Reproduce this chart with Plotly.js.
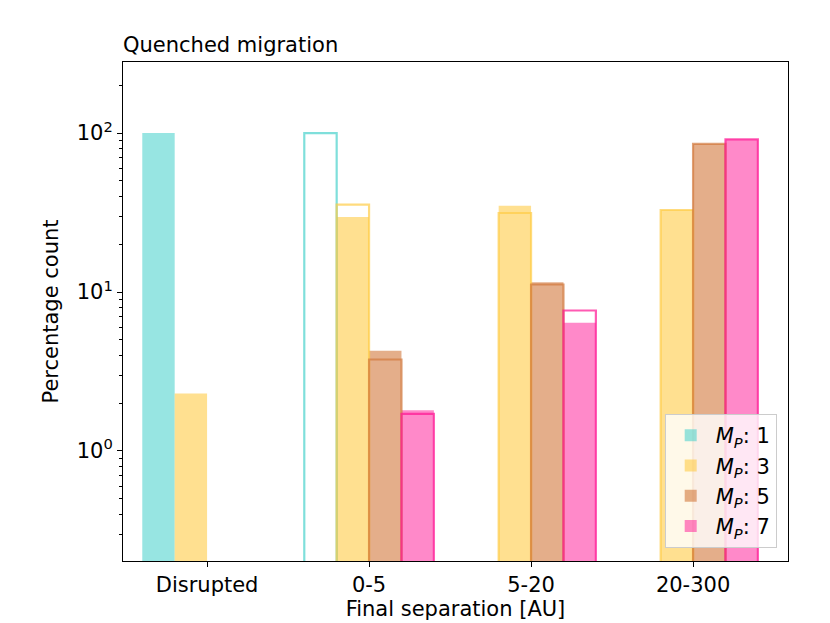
<!DOCTYPE html>
<html>
<head>
<meta charset="utf-8">
<script src="https://cdn.plot.ly/plotly-3.0.1.min.js"></script>
<style>
  html, body { margin: 0; padding: 0; background: #fff; }
  #chart { width: 830px; height: 623px; }
</style>
</head>
<body>
<div id="chart"></div>
<script>
// ---- Datos ----
const categories = ['Disrupted', '0-5', '5-20', '20-300'];
const massLabels = ['1', '3', '5', '7'];

// barras rellenas
const mp1Filled = [100, 0, 0, 0];
const mp3Filled = [2.3, 29.6, 34.9, 32.8];
const mp5Filled = [0, 4.27, 11.5, 85.5];
const mp7Filled = [0, 1.8, 6.4, 91.3];

// barras solo contorno
const mp1Outline = [0, 100, 0, 0];
const mp3Outline = [0, 35.5, 31.4, 32.8];
const mp5Outline = [0, 3.76, 11.15, 85.5];
const mp7Outline = [0, 1.71, 7.65, 91.3];

const yTickVals = [1, 10, 100];
const yTickText = ['10<sup>0</sup>', '10<sup>1</sup>', '10<sup>2</sup>'];

// ---- Estilos ----
const baseColors = ['72,209,204', '255,204,70', '210,120,60', '255,20,147'];
const fillAlpha = [0.57, 0.6, 0.6, 0.5];

const filled = [mp1Filled, mp3Filled, mp5Filled, mp7Filled];
const outlined = [mp1Outline, mp3Outline, mp5Outline, mp7Outline];

const noZero = arr => arr.map(v => (v > 0 ? v : null));

const traces = [];

filled.forEach((vals, i) => {
  traces.push({
    type: 'bar',
    x: categories,
    y: noZero(vals),
    name: '<i>M</i><sub><i>P</i></sub>: ' + massLabels[i],
    offsetgroup: 'g' + i,
    marker: {
      color: `rgba(${baseColors[i]},${fillAlpha[i]})`,
      line: { width: 0 }
    },
    hoverinfo: 'x+y+name'
  });
});

outlined.forEach((vals, i) => {
  traces.push({
    type: 'bar',
    x: categories,
    y: noZero(vals),
    name: 'contorno ' + massLabels[i],
    offsetgroup: 'g' + i,
    showlegend: false,
    marker: {
      color: 'rgba(0,0,0,0)',
      line: { width: 2.2, color: `rgba(${baseColors[i]},0.7)` }
    },
    hoverinfo: 'x+y'
  });
});

const minorVals = [];
[0.1, 1, 10, 100].forEach(d => {
  for (let k = 2; k <= 9; k++) minorVals.push(d * k);
});

const layout = {
  width: 830,
  height: 623,
  paper_bgcolor: '#fff',
  plot_bgcolor: '#fff',
  font: { family: 'DejaVu Sans, sans-serif', color: '#000', size: 21 },
  margin: { t: 62, r: 42, b: 62, l: 123 },
  title: {
    text: 'Quenched migration',
    font: { size: 21 },
    xref: 'paper',
    x: 0,
    xanchor: 'left',
    yref: 'container',
    y: 1 - 45 / 623,
    yanchor: 'middle'
  },
  barmode: 'group',
  bargap: 0.2,
  bargroupgap: 0,
  xaxis: {
    type: 'category',
    range: [-0.519, 3.586],
    showline: true,
    linecolor: '#000',
    linewidth: 1,
    mirror: true,
    ticks: 'outside',
    ticklen: 5,
    tickcolor: '#000',
    showgrid: false,
    zeroline: false,
    tickfont: { size: 21 },
    title: { text: 'Final separation [AU]', font: { size: 21 }, standoff: 4 }
  },
  yaxis: {
    type: 'log',
    range: [Math.log10(0.203), Math.log10(280)],
    showline: true,
    linecolor: '#000',
    linewidth: 1,
    mirror: true,
    ticks: 'outside',
    ticklen: 5,
    tickcolor: '#000',
    tickmode: 'array',
    tickvals: yTickVals,
    ticktext: yTickText,
    tickfont: { size: 21 },
    showgrid: false,
    zeroline: false,
    minor: {
      tickmode: 'array',
      tickvals: minorVals,
      ticks: 'outside',
      ticklen: 3,
      tickcolor: '#000',
      showgrid: false
    },
    title: { text: 'Percentage count', font: { size: 21 }, standoff: 12 }
  },
  legend: {
    x: 0.983,
    xanchor: 'right',
    y: 0.026,
    yanchor: 'bottom',
    bgcolor: 'rgba(255,255,255,0.8)',
    bordercolor: '#cccccc',
    borderwidth: 1,
    font: { size: 21 },
    itemwidth: 40
  },
  showlegend: true
};

Plotly.newPlot('chart', traces, layout, { displayModeBar: false, staticPlot: true });
</script>
</body>
</html>
